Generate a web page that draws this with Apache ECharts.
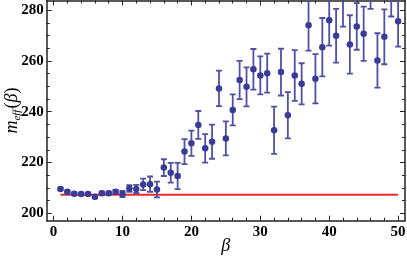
<!DOCTYPE html>
<html><head><meta charset="utf-8">
<script src="https://cdn.jsdelivr.net/npm/echarts@6/dist/echarts.min.js"></script>
<style>html,body{margin:0;padding:0;background:#fff}#c{width:407px;height:261px}</style>
</head><body><div id="c"></div>
<script>
const betaValues = [1,2,3,4,5,6,7,8,9,10,11,12,13,14,15,16,17,18,19,20,21,22,23,24,25,26,27,28,29,30,31,32,33,34,35,36,37,38,39,40,41,42,43,44,45,46,47,48,49,50];
const meffValues = [209.6,208.5,207.7,207.6,207.6,206.5,207.9,207.9,208.5,207.6,
  209.8,209.6,211.4,211.5,209.4,218.0,216.0,214.7,224.3,227.6,
  234.8,225.6,228.2,249.2,229.5,240.7,252.5,249.8,256.7,254.3,
  255.2,232.7,255.6,238.6,254.3,251.0,274.1,253.0,265.4,276.0,
  269.9,284.0,266.5,273.6,270.7,291.5,260.2,269.5,288.5,275.6];
const meffErrors = [0.5,0.5,0.5,0.5,0.5,0.6,0.6,0.6,0.7,1.2,
  1.3,1.6,2.3,3.0,3.1,3.3,3.9,5.2,4.9,5.0,
  5.5,5.6,6.7,7.0,6.7,6.1,7.5,7.7,8.0,7.5,
  7.7,9.3,9.2,9.1,10.0,8.1,10.0,9.7,11.5,10.0,
  10.6,10.5,11.5,9.2,10.7,11.0,10.7,10.8,11.0,10.0];
const fitLevel = 207.3;
const fitRange = [1, 50];
const xTickLabels = [0,10,20,30,40,50];
const yTickLabels = [200,220,240,260,280];
const xMinorTicks = [2,4,6,8,12,14,16,18,22,24,26,28,32,34,36,38,42,44,46,48];
const yMinorTicks = [205,210,215,225,230,235,245,250,255,265,270,275];

const chart = echarts.init(document.getElementById('c'));
const FONT = 'Liberation Serif';
const X_MIN = -1, X_MAX = 51, Y_MIN = 197.1, Y_MAX = 283.8;
const lineStyle = {color:'#222', width:1.5};

function xAx(pos, ticks, len, labels, line, extra){
  return Object.assign({
    type:'value', position:pos, min:X_MIN, max:X_MAX, gridIndex:0,
    axisLine:{show:line, onZero:false, lineStyle},
    axisTick:{show:true, inside:true, length:len, customValues:ticks, lineStyle:{color:'#222', width:1}},
    axisLabel:{show:labels, customValues:ticks, color:'#000', fontFamily:FONT, fontWeight:'bold', fontSize:15, margin:4},
    splitLine:{show:false}, minorTick:{show:false}
  }, extra||{});
}
function yAx(pos, ticks, len, labels, line, extra){
  return Object.assign({
    type:'value', position:pos, min:Y_MIN, max:Y_MAX, gridIndex:0,
    axisLine:{show:line, onZero:false, lineStyle},
    axisTick:{show:true, inside:true, length:len, customValues:ticks, lineStyle:{color:'#222', width:1}},
    axisLabel:{show:labels, customValues:ticks, color:'#000', fontFamily:FONT, fontWeight:'bold', fontSize:15, margin:3},
    splitLine:{show:false}, minorTick:{show:false}
  }, extra||{});
}

const option = {
  animation:false,
  backgroundColor:'#fff',
  grid:{left:46.7, right:2, top:0.5, bottom:40.3, containLabel:false, outerBoundsMode:'none'},
  xAxis:[
    xAx('bottom', xTickLabels, 5, true, true, {
      name:'β', nameLocation:'middle', nameGap:17, nameMoveOverlap:false,
      nameTextStyle:{fontFamily:FONT, fontStyle:'italic', fontSize:18, color:'#000'}
    }),
    xAx('bottom', xMinorTicks, 3, false, false),
    xAx('top', xTickLabels, 5, false, true),
    xAx('top', xMinorTicks, 3, false, false)
  ],
  yAxis:[
    yAx('left', yTickLabels, 5, true, true, {
      name:'{m|m}{s|eff}{p|(}{b|β}{p|)}', nameLocation:'middle', nameGap:24, nameRotate:90, nameMoveOverlap:false,
      nameTextStyle:{
        color:'#000',
        rich:{
          m:{fontFamily:FONT, fontStyle:'italic', fontSize:18, color:'#000', lineHeight:20, verticalAlign:'middle'},
          s:{fontFamily:FONT, fontStyle:'italic', fontSize:11, color:'#000', padding:[9,1,0,0], lineHeight:20, verticalAlign:'middle'},
          p:{fontFamily:FONT, fontSize:18, color:'#000', lineHeight:20, verticalAlign:'middle'},
          b:{fontFamily:FONT, fontStyle:'italic', fontSize:18, color:'#000', lineHeight:20, verticalAlign:'middle'}
        }
      }
    }),
    yAx('left', yMinorTicks, 3, false, false),
    yAx('right', yTickLabels, 5, false, true),
    yAx('right', yMinorTicks, 3, false, false)
  ],
  series:[
    {
      type:'line', xAxisIndex:0, yAxisIndex:0, z:2,
      data:[[fitRange[0], fitLevel],[fitRange[1], fitLevel]],
      symbol:'none', lineStyle:{color:'#ee2b2b', width:2}, silent:true
    },
    {
      type:'custom', xAxisIndex:0, yAxisIndex:0, z:3, clip:true,
      data: betaValues.map((b,i)=>[b, meffValues[i]-meffErrors[i], meffValues[i]+meffErrors[i]]),
      renderItem:function(params, api){
        const x = api.value(0), lo = api.value(1), hi = api.value(2);
        const p1 = api.coord([x, hi]), p2 = api.coord([x, lo]);
        const w = 3;
        const style = {stroke:'#5050a6', lineWidth:1.8};
        return {type:'group', children:[
          {type:'line', shape:{x1:p1[0], y1:p1[1], x2:p2[0], y2:p2[1]}, style:style},
          {type:'line', shape:{x1:p1[0]-w, y1:p1[1], x2:p1[0]+w, y2:p1[1]}, style:style},
          {type:'line', shape:{x1:p2[0]-w, y1:p2[1], x2:p2[0]+w, y2:p2[1]}, style:style}
        ]};
      }
    },
    {
      type:'scatter', xAxisIndex:0, yAxisIndex:0, z:4, clip:true,
      data: betaValues.map((b,i)=>[b, meffValues[i]]),
      symbol:'circle', symbolSize:6.5,
      itemStyle:{color:'#3a3a98', opacity:1}
    }
  ]
};
chart.setOption(option);
</script>
</body></html>
